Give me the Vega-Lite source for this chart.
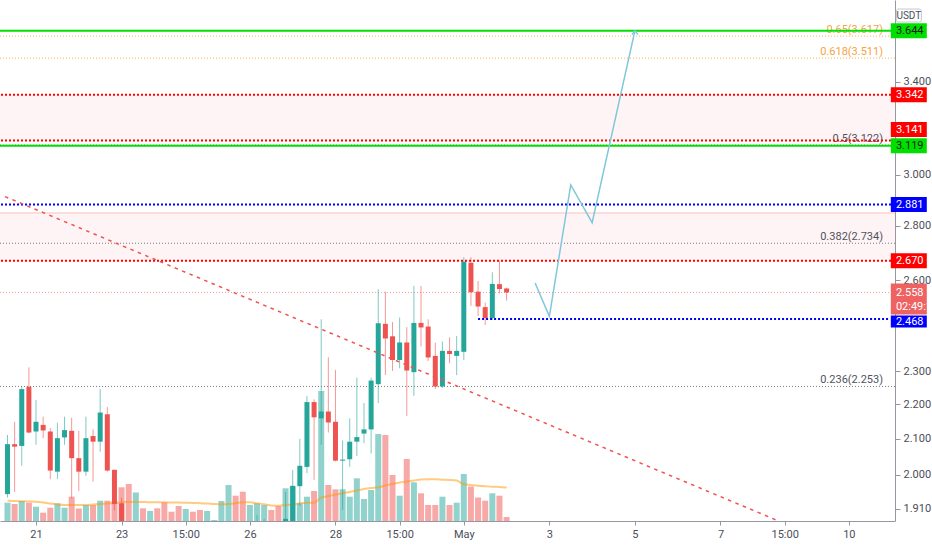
{
  "$schema": "https://vega.github.io/schema/vega-lite/v6.json",
  "width": 895,
  "height": 521,
  "autosize": {"type": "none"},
  "padding": {"left": 0, "top": 0, "right": 37, "bottom": 29},
  "background": "#ffffff",
  "config": {"view": {"stroke": null}, "font": "Roboto"},
  "datasets": {
    "candles": [
      {"hour": -256, "open": 1.948, "high": 2.110, "low": 1.939, "close": 2.084, "volume": 183, "vol_ma": 203},
      {"hour": -252, "open": 2.084, "high": 2.148, "low": 1.954, "close": 2.077, "volume": 170, "vol_ma": 200},
      {"hour": -248, "open": 2.079, "high": 2.252, "low": 2.024, "close": 2.245, "volume": 200, "vol_ma": 198},
      {"hour": -244, "open": 2.252, "high": 2.312, "low": 2.115, "close": 2.117, "volume": 183, "vol_ma": 195},
      {"hour": -240, "open": 2.120, "high": 2.212, "low": 2.082, "close": 2.148, "volume": 143, "vol_ma": 192},
      {"hour": -236, "open": 2.139, "high": 2.163, "low": 2.101, "close": 2.123, "volume": 83, "vol_ma": 185},
      {"hour": -232, "open": 2.120, "high": 2.130, "low": 1.988, "close": 2.011, "volume": 133, "vol_ma": 175},
      {"hour": -228, "open": 2.008, "high": 2.145, "low": 1.988, "close": 2.101, "volume": 177, "vol_ma": 165},
      {"hour": -224, "open": 2.103, "high": 2.163, "low": 2.082, "close": 2.124, "volume": 133, "vol_ma": 160},
      {"hour": -220, "open": 2.122, "high": 2.160, "low": 1.937, "close": 2.045, "volume": 243, "vol_ma": 160},
      {"hour": -216, "open": 2.045, "high": 2.122, "low": 1.956, "close": 2.008, "volume": 125, "vol_ma": 160},
      {"hour": -212, "open": 2.008, "high": 2.163, "low": 1.997, "close": 2.101, "volume": 160, "vol_ma": 160},
      {"hour": -208, "open": 2.107, "high": 2.126, "low": 1.981, "close": 2.091, "volume": 160, "vol_ma": 165},
      {"hour": -204, "open": 2.091, "high": 2.245, "low": 2.063, "close": 2.175, "volume": 203, "vol_ma": 170},
      {"hour": -200, "open": 2.170, "high": 2.191, "low": 2.008, "close": 2.011, "volume": 203, "vol_ma": 175},
      {"hour": -196, "open": 2.013, "high": 2.013, "low": 1.905, "close": 1.922, "volume": 195, "vol_ma": 180},
      {"hour": -192, "open": 1.924, "high": 1.939, "low": 1.820, "close": 1.835, "volume": 337, "vol_ma": 187},
      {"hour": -188, "open": 1.835, "high": 1.850, "low": 1.780, "close": 1.800, "volume": 370, "vol_ma": 190},
      {"hour": -184, "open": 1.800, "high": 1.845, "low": 1.790, "close": 1.830, "volume": 285, "vol_ma": 193},
      {"hour": -180, "open": 1.830, "high": 1.840, "low": 1.805, "close": 1.815, "volume": 127, "vol_ma": 190},
      {"hour": -176, "open": 1.815, "high": 1.835, "low": 1.810, "close": 1.825, "volume": 100, "vol_ma": 187},
      {"hour": -172, "open": 1.825, "high": 1.830, "low": 1.800, "close": 1.810, "volume": 127, "vol_ma": 187},
      {"hour": -168, "open": 1.810, "high": 1.815, "low": 1.780, "close": 1.790, "volume": 187, "vol_ma": 187},
      {"hour": -164, "open": 1.790, "high": 1.800, "low": 1.775, "close": 1.785, "volume": 93, "vol_ma": 185},
      {"hour": -160, "open": 1.785, "high": 1.790, "low": 1.765, "close": 1.775, "volume": 150, "vol_ma": 185},
      {"hour": -156, "open": 1.775, "high": 1.795, "low": 1.770, "close": 1.785, "volume": 120, "vol_ma": 183},
      {"hour": -152, "open": 1.785, "high": 1.790, "low": 1.772, "close": 1.780, "volume": 93, "vol_ma": 180},
      {"hour": -148, "open": 1.780, "high": 1.785, "low": 1.765, "close": 1.772, "volume": 110, "vol_ma": 178},
      {"hour": -144, "open": 1.772, "high": 1.790, "low": 1.768, "close": 1.780, "volume": 100, "vol_ma": 175},
      {"hour": -140, "open": 1.780, "high": 1.790, "low": 1.776, "close": 1.782, "volume": 10, "vol_ma": 170},
      {"hour": -136, "open": 1.782, "high": 1.810, "low": 1.778, "close": 1.800, "volume": 200, "vol_ma": 167},
      {"hour": -132, "open": 1.800, "high": 1.850, "low": 1.795, "close": 1.835, "volume": 360, "vol_ma": 170},
      {"hour": -128, "open": 1.835, "high": 1.845, "low": 1.810, "close": 1.820, "volume": 253, "vol_ma": 177},
      {"hour": -124, "open": 1.820, "high": 1.830, "low": 1.790, "close": 1.800, "volume": 293, "vol_ma": 187},
      {"hour": -120, "open": 1.800, "high": 1.830, "low": 1.795, "close": 1.815, "volume": 160, "vol_ma": 187},
      {"hour": -116, "open": 1.815, "high": 1.894, "low": 1.810, "close": 1.840, "volume": 177, "vol_ma": 177},
      {"hour": -112, "open": 1.840, "high": 1.884, "low": 1.835, "close": 1.855, "volume": 160, "vol_ma": 167},
      {"hour": -108, "open": 1.855, "high": 1.865, "low": 1.830, "close": 1.840, "volume": 110, "vol_ma": 155},
      {"hour": -104, "open": 1.840, "high": 1.850, "low": 1.820, "close": 1.830, "volume": 150, "vol_ma": 153},
      {"hour": -100, "open": 1.830, "high": 1.954, "low": 1.825, "close": 1.884, "volume": 327, "vol_ma": 160},
      {"hour": -96, "open": 1.875, "high": 2.013, "low": 1.870, "close": 1.970, "volume": 345, "vol_ma": 165},
      {"hour": -92, "open": 1.969, "high": 2.099, "low": 1.917, "close": 2.024, "volume": 177, "vol_ma": 177},
      {"hour": -88, "open": 2.021, "high": 2.224, "low": 2.004, "close": 2.206, "volume": 243, "vol_ma": 182},
      {"hour": -84, "open": 2.206, "high": 2.214, "low": 1.986, "close": 2.161, "volume": 300, "vol_ma": 183},
      {"hour": -80, "open": 2.158, "high": 2.467, "low": 2.082, "close": 2.178, "volume": 1300, "vol_ma": 233},
      {"hour": -76, "open": 2.178, "high": 2.344, "low": 2.117, "close": 2.146, "volume": 360, "vol_ma": 250},
      {"hour": -72, "open": 2.148, "high": 2.304, "low": 2.036, "close": 2.038, "volume": 317, "vol_ma": 265},
      {"hour": -68, "open": 2.038, "high": 2.094, "low": 1.907, "close": 2.041, "volume": 317, "vol_ma": 277},
      {"hour": -64, "open": 2.042, "high": 2.158, "low": 2.021, "close": 2.091, "volume": 243, "vol_ma": 290},
      {"hour": -60, "open": 2.091, "high": 2.280, "low": 2.051, "close": 2.104, "volume": 427, "vol_ma": 305},
      {"hour": -56, "open": 2.114, "high": 2.203, "low": 2.087, "close": 2.126, "volume": 220, "vol_ma": 320},
      {"hour": -52, "open": 2.126, "high": 2.280, "low": 2.058, "close": 2.271, "volume": 310, "vol_ma": 330},
      {"hour": -48, "open": 2.260, "high": 2.569, "low": 2.203, "close": 2.454, "volume": 870, "vol_ma": 337},
      {"hour": -44, "open": 2.452, "high": 2.561, "low": 2.288, "close": 2.404, "volume": 860, "vol_ma": 355},
      {"hour": -40, "open": 2.411, "high": 2.458, "low": 2.301, "close": 2.335, "volume": 460, "vol_ma": 370},
      {"hour": -36, "open": 2.335, "high": 2.473, "low": 2.309, "close": 2.391, "volume": 253, "vol_ma": 385},
      {"hour": -32, "open": 2.391, "high": 2.441, "low": 2.165, "close": 2.302, "volume": 620, "vol_ma": 395},
      {"hour": -28, "open": 2.297, "high": 2.581, "low": 2.225, "close": 2.455, "volume": 387, "vol_ma": 405},
      {"hour": -24, "open": 2.455, "high": 2.581, "low": 2.378, "close": 2.440, "volume": 277, "vol_ma": 415},
      {"hour": -20, "open": 2.443, "high": 2.467, "low": 2.332, "close": 2.343, "volume": 160, "vol_ma": 417},
      {"hour": -16, "open": 2.348, "high": 2.390, "low": 2.245, "close": 2.253, "volume": 160, "vol_ma": 417},
      {"hour": -12, "open": 2.253, "high": 2.394, "low": 2.248, "close": 2.364, "volume": 243, "vol_ma": 413},
      {"hour": -8, "open": 2.364, "high": 2.408, "low": 2.325, "close": 2.354, "volume": 160, "vol_ma": 410},
      {"hour": -4, "open": 2.348, "high": 2.412, "low": 2.288, "close": 2.364, "volume": 183, "vol_ma": 405},
      {"hour": 0, "open": 2.361, "high": 2.683, "low": 2.335, "close": 2.667, "volume": 470, "vol_ma": 367},
      {"hour": 4, "open": 2.663, "high": 2.683, "low": 2.512, "close": 2.559, "volume": 345, "vol_ma": 360},
      {"hour": 8, "open": 2.561, "high": 2.598, "low": 2.478, "close": 2.510, "volume": 235, "vol_ma": 353},
      {"hour": 12, "open": 2.508, "high": 2.523, "low": 2.448, "close": 2.471, "volume": 203, "vol_ma": 348},
      {"hour": 16, "open": 2.471, "high": 2.629, "low": 2.465, "close": 2.588, "volume": 277, "vol_ma": 343},
      {"hour": 20, "open": 2.587, "high": 2.670, "low": 2.555, "close": 2.570, "volume": 253, "vol_ma": 340},
      {"hour": 24, "open": 2.572, "high": 2.575, "low": 2.530, "close": 2.558, "volume": 40, "vol_ma": 335}
    ],
    "zones": [
      {"top": 3.342, "bottom": 3.141},
      {"top": 2.848, "bottom": 2.670}
    ],
    "fibs": [
      {"ratio": 0.236, "price": 2.253, "label": "0.236(2.253)"},
      {"ratio": 0.382, "price": 2.734, "label": "0.382(2.734)"},
      {"ratio": 0.5, "price": 3.122, "label": "0.5(3.122)"},
      {"ratio": 0.618, "price": 3.511, "label": "0.618(3.511)"},
      {"ratio": 0.65, "price": 3.617, "label": "0.65(3.617)"}
    ],
    "levels": [
      {"price": 3.644, "kind": "target"},
      {"price": 3.342, "kind": "resistance"},
      {"price": 3.141, "kind": "resistance"},
      {"price": 3.119, "kind": "target"},
      {"price": 2.881, "kind": "breakout"},
      {"price": 2.670, "kind": "resistance"},
      {"price": 2.468, "kind": "support", "start": 8}
    ],
    "trend": [
      {"hour": -257.4, "price": 2.912},
      {"hour": 175.3, "price": 1.881}
    ],
    "path": [
      {"hour": 40, "price": 2.591},
      {"hour": 48, "price": 2.477},
      {"hour": 60, "price": 2.958},
      {"hour": 72, "price": 2.811},
      {"hour": 96, "price": 3.644}
    ]
  },
  "resolve": {"scale": {"y": "independent"}, "axis": {"y": "independent"}},
  "layer": [
    {
      "data": {"name": "candles"},
      "mark": {"type": "bar", "width": 6, "opacity": 0.5},
      "encoding": {
        "x": {"field": "hour", "type": "quantitative", "scale": {"domain": [-257.4, 239.1], "nice": false, "zero": false},
          "axis": {"title": null, "values": [-240, -192, -156, -120, -72, -36, 0, 48, 96, 144, 180, 216],
            "labelExpr": "datum.value == -240 ? '21' : datum.value == -192 ? '23' : datum.value == -120 ? '26' : datum.value == -72 ? '28' : datum.value == 0 ? 'May' : datum.value == 48 ? '3' : datum.value == 96 ? '5' : datum.value == 144 ? '7' : datum.value == 216 ? '10' : '15:00'",
            "domain": true, "ticks": true, "labels": true, "grid": false,
            "tickSize": 4, "tickColor": "#9598a1", "domainColor": "#9598a1", "labelColor": "#4a4e59", "labelFontSize": 11, "labelPadding": 3, "labelFlush": false, "labelOverlap": false}},
        "y": {"field": "volume", "type": "quantitative", "scale": {"domain": [0, 5210], "nice": false}, "axis": null},
        "color": {"condition": {"test": "datum.close >= datum.open", "value": "#26a69a"}, "value": "#ef5350"}
      }
    },
    {
      "data": {"name": "candles"},
      "mark": {"type": "line", "color": "#ff9800", "opacity": 0.5, "strokeWidth": 2, "interpolate": "monotone"},
      "encoding": {
        "x": {"field": "hour", "type": "quantitative", "scale": {"domain": [-257.4, 239.1], "nice": false, "zero": false}},
        "y": {"field": "vol_ma", "type": "quantitative", "scale": {"domain": [0, 5210], "nice": false}, "axis": null}
      }
    },
    {
      "data": {"name": "zones"},
      "mark": {"type": "rect", "color": "#ffcdd2", "opacity": 0.22},
      "encoding": {
        "y": {"field": "top", "type": "quantitative", "scale": {"type": "log", "domain": [1.8785, 3.798], "nice": false},
          "axis": {"orient": "right", "title": null, "values": [1.91, 2.0, 2.1, 2.2, 2.3, 2.6, 2.8, 3.0, 3.4, 3.8], "format": ".3f",
            "domain": true, "ticks": true, "labels": true, "grid": false,
            "tickSize": 5, "labelPadding": 3, "tickColor": "#9598a1", "domainColor": "#9598a1", "labelColor": "#4a4e59", "labelFontSize": 11, "labelFlush": false, "labelOverlap": false}},
        "y2": {"field": "bottom"}
      }
    },
    {
      "data": {"name": "zones"},
      "transform": [{"filter": "datum.top < 3"}],
      "mark": {"type": "rule", "color": "#ffdcdc", "strokeWidth": 2},
      "encoding": {
        "y": {"field": "top", "type": "quantitative", "scale": {"type": "log", "domain": [1.8785, 3.798], "nice": false}, "axis": null}
      }
    },
    {
      "data": {"name": "fibs"},
      "mark": {"type": "rule", "strokeWidth": 1, "strokeDash": [1, 2]},
      "encoding": {
        "y": {"field": "price", "type": "quantitative", "scale": {"type": "log", "domain": [1.8785, 3.798], "nice": false}, "axis": null},
        "color": {"condition": {"test": "datum.ratio >= 0.6", "value": "#ffb74d"}, "value": "#787b86"}
      }
    },
    {
      "data": {"name": "fibs"},
      "mark": {"type": "text", "align": "right", "baseline": "bottom", "dy": -1, "fontSize": 11},
      "encoding": {
        "x": {"datum": 235.2, "type": "quantitative", "scale": {"domain": [-257.4, 239.1], "nice": false, "zero": false}},
        "y": {"field": "price", "type": "quantitative", "scale": {"type": "log", "domain": [1.8785, 3.798], "nice": false}, "axis": null},
        "text": {"field": "label"},
        "color": {"condition": {"test": "datum.ratio >= 0.6", "value": "#f7a340"}, "value": "#50535e"}
      }
    },
    {
      "data": {"name": "candles"},
      "mark": {"type": "rule", "strokeWidth": 1, "opacity": 0.6, "clip": true},
      "encoding": {
        "x": {"field": "hour", "type": "quantitative", "scale": {"domain": [-257.4, 239.1], "nice": false, "zero": false}},
        "y": {"field": "low", "type": "quantitative", "scale": {"type": "log", "domain": [1.8785, 3.798], "nice": false}, "axis": null},
        "y2": {"field": "high"},
        "color": {"condition": {"test": "datum.close >= datum.open", "value": "#26a69a"}, "value": "#ef5350"}
      }
    },
    {
      "data": {"name": "candles"},
      "mark": {"type": "bar", "width": 5, "clip": true},
      "encoding": {
        "x": {"field": "hour", "type": "quantitative", "scale": {"domain": [-257.4, 239.1], "nice": false, "zero": false}},
        "y": {"field": "open", "type": "quantitative", "scale": {"type": "log", "domain": [1.8785, 3.798], "nice": false}, "axis": null},
        "y2": {"field": "close"},
        "color": {"condition": {"test": "datum.close >= datum.open", "value": "#26a69a"}, "value": "#ef5350"}
      }
    },
    {
      "data": {"name": "candles"},
      "transform": [{"filter": "datum.hour == 24"}],
      "mark": {"type": "rule", "color": "#ef5350", "opacity": 0.55, "strokeDash": [1, 2], "strokeWidth": 1},
      "encoding": {
        "y": {"field": "close", "type": "quantitative", "scale": {"type": "log", "domain": [1.8785, 3.798], "nice": false}, "axis": null}
      }
    },
    {
      "data": {"name": "levels"},
      "transform": [{"filter": "datum.kind == 'target'"}],
      "mark": {"type": "rule", "color": "#00e000", "strokeWidth": 2},
      "encoding": {
        "y": {"field": "price", "type": "quantitative", "scale": {"type": "log", "domain": [1.8785, 3.798], "nice": false}, "axis": null}
      }
    },
    {
      "data": {"name": "levels"},
      "transform": [{"filter": "datum.kind == 'resistance'"}],
      "mark": {"type": "rule", "color": "#ff0000", "strokeWidth": 2, "strokeDash": [2, 2]},
      "encoding": {
        "y": {"field": "price", "type": "quantitative", "scale": {"type": "log", "domain": [1.8785, 3.798], "nice": false}, "axis": null}
      }
    },
    {
      "data": {"name": "levels"},
      "transform": [{"filter": "datum.kind == 'breakout'"}],
      "mark": {"type": "rule", "color": "#0000ff", "strokeWidth": 2, "strokeDash": [2, 2]},
      "encoding": {
        "y": {"field": "price", "type": "quantitative", "scale": {"type": "log", "domain": [1.8785, 3.798], "nice": false}, "axis": null}
      }
    },
    {
      "data": {"name": "levels"},
      "transform": [{"filter": "datum.kind == 'support'"}],
      "mark": {"type": "rule", "color": "#0000ff", "strokeWidth": 2, "strokeDash": [2, 2]},
      "encoding": {
        "x": {"field": "start", "type": "quantitative", "scale": {"domain": [-257.4, 239.1], "nice": false, "zero": false}},
        "x2": {"datum": 239.1},
        "y": {"field": "price", "type": "quantitative", "scale": {"type": "log", "domain": [1.8785, 3.798], "nice": false}, "axis": null}
      }
    },
    {
      "data": {"name": "trend"},
      "mark": {"type": "line", "color": "#ef5350", "strokeWidth": 1.5, "strokeDash": [3.5, 4.5], "clip": true},
      "encoding": {
        "x": {"field": "hour", "type": "quantitative", "scale": {"domain": [-257.4, 239.1], "nice": false, "zero": false}},
        "y": {"field": "price", "type": "quantitative", "scale": {"type": "log", "domain": [1.8785, 3.798], "nice": false}, "axis": null}
      }
    },
    {
      "data": {"name": "path"},
      "mark": {"type": "line", "color": "#7fc8d9", "strokeWidth": 1.5},
      "encoding": {
        "x": {"field": "hour", "type": "quantitative", "scale": {"domain": [-257.4, 239.1], "nice": false, "zero": false}},
        "y": {"field": "price", "type": "quantitative", "scale": {"type": "log", "domain": [1.8785, 3.798], "nice": false}, "axis": null}
      }
    },
    {
      "data": {"name": "path"},
      "transform": [{"filter": "datum.hour == 96"}],
      "mark": {"type": "point", "shape": "M-0.6,0.8L0,0L0.6,0.8", "size": 100, "filled": false, "stroke": "#7fc8d9", "strokeWidth": 1.5, "opacity": 1},
      "encoding": {
        "x": {"field": "hour", "type": "quantitative", "scale": {"domain": [-257.4, 239.1], "nice": false, "zero": false}},
        "y": {"field": "price", "type": "quantitative", "scale": {"type": "log", "domain": [1.8785, 3.798], "nice": false}, "axis": null}
      }
    },
    {
      "data": {"name": "levels"},
      "transform": [{"filter": "datum.price != 3.141 && datum.kind != 'support'"}],
      "mark": {"type": "tick", "orient": "horizontal", "size": 36, "thickness": 15, "opacity": 1},
      "encoding": {
        "x": {"datum": 249.65, "type": "quantitative", "scale": {"domain": [-257.4, 239.1], "nice": false, "zero": false}},
        "y": {"field": "price", "type": "quantitative", "scale": {"type": "log", "domain": [1.8785, 3.798], "nice": false}, "axis": null},
        "color": {"field": "kind", "type": "nominal", "scale": {"domain": ["target", "resistance", "breakout", "support"], "range": ["#00e000", "#ff0000", "#0000ff", "#0000ff"]}, "legend": null}
      }
    },
    {
      "data": {"name": "levels"},
      "transform": [{"filter": "datum.price == 3.141"}],
      "mark": {"type": "tick", "orient": "horizontal", "size": 36, "thickness": 15, "opacity": 1, "yOffset": -11},
      "encoding": {
        "x": {"datum": 249.65, "type": "quantitative", "scale": {"domain": [-257.4, 239.1], "nice": false, "zero": false}},
        "y": {"field": "price", "type": "quantitative", "scale": {"type": "log", "domain": [1.8785, 3.798], "nice": false}, "axis": null},
        "color": {"field": "kind", "type": "nominal", "scale": {"domain": ["target", "resistance", "breakout", "support"], "range": ["#00e000", "#ff0000", "#0000ff", "#0000ff"]}, "legend": null}
      }
    },
    {
      "data": {"name": "candles"},
      "transform": [{"filter": "datum.hour == 24"}],
      "mark": {"type": "tick", "orient": "horizontal", "size": 36, "thickness": 31, "opacity": 1, "color": "#ef6262", "yOffset": 6.5},
      "encoding": {
        "x": {"datum": 249.65, "type": "quantitative", "scale": {"domain": [-257.4, 239.1], "nice": false, "zero": false}},
        "y": {"field": "close", "type": "quantitative", "scale": {"type": "log", "domain": [1.8785, 3.798], "nice": false}, "axis": null}
      }
    },
    {
      "data": {"name": "levels"},
      "transform": [{"filter": "datum.kind == 'support'"}],
      "mark": {"type": "tick", "orient": "horizontal", "size": 36, "thickness": 12, "opacity": 1, "yOffset": 2.5},
      "encoding": {
        "x": {"datum": 249.65, "type": "quantitative", "scale": {"domain": [-257.4, 239.1], "nice": false, "zero": false}},
        "y": {"field": "price", "type": "quantitative", "scale": {"type": "log", "domain": [1.8785, 3.798], "nice": false}, "axis": null},
        "color": {"field": "kind", "type": "nominal", "scale": {"domain": ["target", "resistance", "breakout", "support"], "range": ["#00e000", "#ff0000", "#0000ff", "#0000ff"]}, "legend": null}
      }
    },
    {
      "data": {"name": "levels"},
      "transform": [{"filter": "datum.price != 3.141 && datum.kind != 'support'"}],
      "mark": {"type": "text", "align": "left", "baseline": "middle", "fontSize": 11},
      "encoding": {
        "x": {"datum": 242.4, "type": "quantitative", "scale": {"domain": [-257.4, 239.1], "nice": false, "zero": false}},
        "y": {"field": "price", "type": "quantitative", "scale": {"type": "log", "domain": [1.8785, 3.798], "nice": false}, "axis": null},
        "text": {"field": "price", "format": ".3f"},
        "color": {"condition": {"test": "datum.kind == 'target'", "value": "#1a1a1a"}, "value": "#ffffff"}
      }
    },
    {
      "data": {"name": "levels"},
      "transform": [{"filter": "datum.price == 3.141"}],
      "mark": {"type": "text", "align": "left", "baseline": "middle", "fontSize": 11, "color": "#ffffff", "yOffset": -11},
      "encoding": {
        "x": {"datum": 242.4, "type": "quantitative", "scale": {"domain": [-257.4, 239.1], "nice": false, "zero": false}},
        "y": {"field": "price", "type": "quantitative", "scale": {"type": "log", "domain": [1.8785, 3.798], "nice": false}, "axis": null},
        "text": {"field": "price", "format": ".3f"}
      }
    },
    {
      "data": {"name": "levels"},
      "transform": [{"filter": "datum.kind == 'support'"}],
      "mark": {"type": "text", "align": "left", "baseline": "middle", "fontSize": 11, "color": "#ffffff", "yOffset": 2.5},
      "encoding": {
        "x": {"datum": 242.4, "type": "quantitative", "scale": {"domain": [-257.4, 239.1], "nice": false, "zero": false}},
        "y": {"field": "price", "type": "quantitative", "scale": {"type": "log", "domain": [1.8785, 3.798], "nice": false}, "axis": null},
        "text": {"field": "price", "format": ".3f"}
      }
    },
    {
      "data": {"name": "candles"},
      "transform": [{"filter": "datum.hour == 24"}],
      "mark": {"type": "text", "align": "left", "baseline": "middle", "fontSize": 11, "color": "#ffffff"},
      "encoding": {
        "x": {"datum": 242.4, "type": "quantitative", "scale": {"domain": [-257.4, 239.1], "nice": false, "zero": false}},
        "y": {"field": "close", "type": "quantitative", "scale": {"type": "log", "domain": [1.8785, 3.798], "nice": false}, "axis": null},
        "text": {"field": "close", "format": ".3f"}
      }
    },
    {
      "data": {"name": "candles"},
      "transform": [{"filter": "datum.hour == 24"}],
      "mark": {"type": "text", "align": "left", "baseline": "middle", "fontSize": 11, "color": "#ffffff", "dy": 14, "text": "02:49:18"},
      "encoding": {
        "x": {"datum": 242.4, "type": "quantitative", "scale": {"domain": [-257.4, 239.1], "nice": false, "zero": false}},
        "y": {"field": "close", "type": "quantitative", "scale": {"type": "log", "domain": [1.8785, 3.798], "nice": false}, "axis": null}
      }
    },
    {
      "data": {"values": [{"unit": "USDT", "price": 3.719}]},
      "mark": {"type": "tick", "orient": "horizontal", "size": 25, "thickness": 13, "opacity": 1, "color": "#ffffff", "stroke": "#c3c6ce", "strokeWidth": 1, "cornerRadius": 2},
      "encoding": {
        "x": {"datum": 249.65, "type": "quantitative", "scale": {"domain": [-257.4, 239.1], "nice": false, "zero": false}},
        "y": {"field": "price", "type": "quantitative", "scale": {"type": "log", "domain": [1.8785, 3.798], "nice": false}, "axis": null}
      }
    },
    {
      "data": {"values": [{"unit": "USDT", "price": 3.719}]},
      "mark": {"type": "text", "align": "center", "baseline": "middle", "fontSize": 10, "color": "#4a4e59"},
      "encoding": {
        "x": {"datum": 249.65, "type": "quantitative", "scale": {"domain": [-257.4, 239.1], "nice": false, "zero": false}},
        "y": {"field": "price", "type": "quantitative", "scale": {"type": "log", "domain": [1.8785, 3.798], "nice": false}, "axis": null},
        "text": {"field": "unit"}
      }
    }
  ]
}
